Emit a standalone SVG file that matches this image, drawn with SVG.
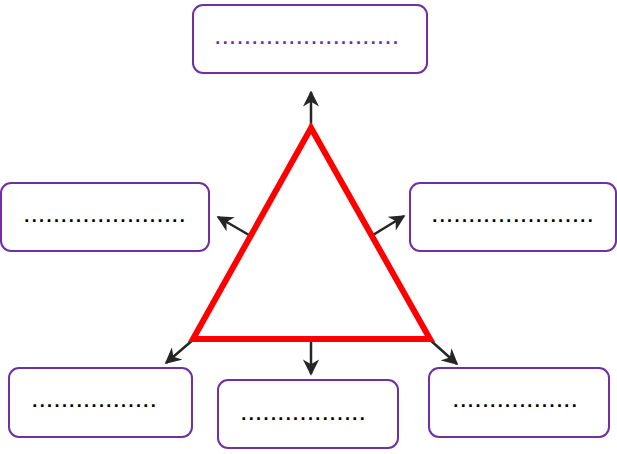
<svg xmlns="http://www.w3.org/2000/svg" width="617" height="454" viewBox="0 0 617 454">
<style>
.box{fill:#fff;stroke:#7030a0;stroke-width:2}
.dots{font-family:"Liberation Sans",Arial,sans-serif;font-size:18px;font-weight:bold;letter-spacing:2.4px;fill:#000}
.purple{fill:#7030a0}
.arr{stroke:#262626;stroke-width:2.5;fill:none;marker-end:url(#ah)}
.tri{fill:none;stroke:#ff0000;stroke-width:6;stroke-linejoin:miter}
</style>
<defs>
<marker id="ah" viewBox="0 0 10 10" refX="9" refY="5" markerWidth="6.5" markerHeight="6.5" markerUnits="strokeWidth" orient="auto">
<path d="M0,0 L10,5 L0,10 L3,5 Z" fill="#262626"/>
</marker>
</defs>
<g id="connectors">
<line class="arr" x1="311" y1="126" x2="311" y2="92"/>
<line class="arr" x1="249" y1="235" x2="218" y2="217"/>
<line class="arr" x1="373" y1="235" x2="404" y2="216"/>
<line class="arr" x1="194" y1="339" x2="166" y2="363"/>
<line class="arr" x1="311" y1="341" x2="311" y2="374"/>
<line class="arr" x1="429" y1="339" x2="457" y2="364"/>
</g>
<g id="triangle">
<polygon class="tri" points="311,128 193,339 430,339"/>
</g>
<g id="node-top">
<rect class="box" x="193" y="5" width="234" height="68" rx="10"/>
<text class="dots purple" x="215.3" y="44">.........................</text>
</g>
<g id="node-left">
<rect class="box" x="1" y="183" width="208" height="68" rx="10"/>
<text class="dots" x="24.3" y="222">......................</text>
</g>
<g id="node-right">
<rect class="box" x="410" y="183" width="206" height="68" rx="10"/>
<text class="dots" x="432.3" y="222">......................</text>
</g>
<g id="node-bottom-left">
<rect class="box" x="9" y="368" width="183" height="69" rx="10"/>
<text class="dots" x="32.3" y="407">.................</text>
</g>
<g id="node-bottom-mid">
<rect class="box" x="218" y="380" width="180" height="68" rx="10"/>
<text class="dots" x="241.3" y="420">.................</text>
</g>
<g id="node-bottom-right">
<rect class="box" x="429" y="368" width="180" height="69" rx="10"/>
<text class="dots" x="453.3" y="407">.................</text>
</g>
</svg>
